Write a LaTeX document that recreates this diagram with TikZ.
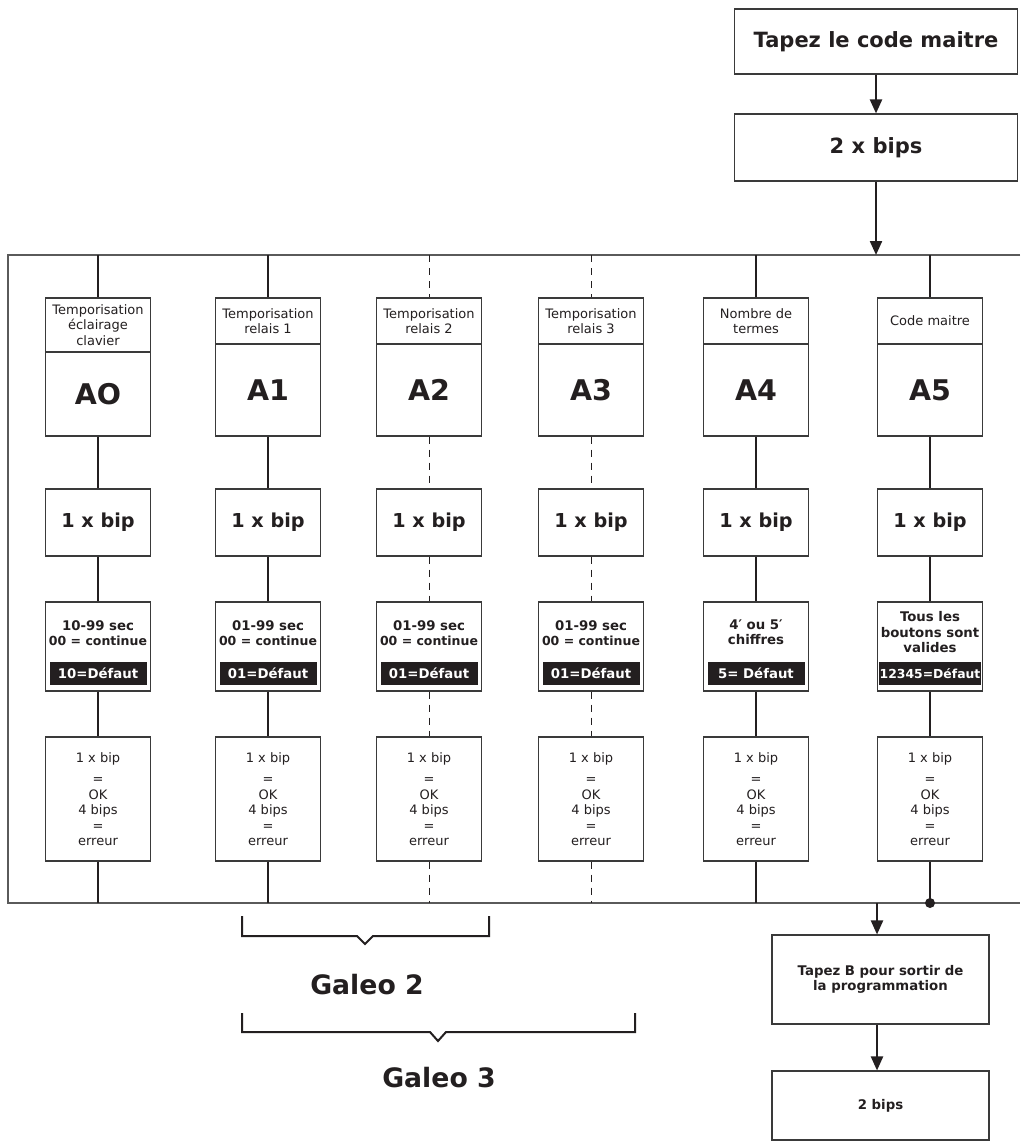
\documentclass[tikz,border=0pt]{standalone}
\usepackage{fontspec}
\setmainfont{DejaVu Sans}
\usetikzlibrary{arrows.meta}
\definecolor{ink}{HTML}{231F20}
\definecolor{edgec}{HTML}{3A3A3A}
\definecolor{framec}{HTML}{5A5A5A}
\newcommand\fHd{\fontsize{13}{15.5}\selectfont}
\newcommand\fBig{\fontsize{28.5}{30}\selectfont\bfseries}
\newcommand\fBip{\fontsize{19.2}{21}\selectfont\bfseries}
\newcommand\fVal{\fontsize{13.3}{15.5}\selectfont\bfseries}
\newcommand\fValS{\fontsize{12.5}{15.5}\selectfont\bfseries}
\newcommand\fRes{\fontsize{13}{15.5}\selectfont}
\newcommand\fTop{\fontsize{21}{23}\selectfont\bfseries}
\newcommand\fGal{\fontsize{26.7}{28}\selectfont\bfseries}
\tikzset{
 box/.style={draw=edgec, line width=1.1pt, fill=white, minimum width=105pt, inner sep=0pt, align=center, text=ink},
 stem/.style={line width=1.9pt, draw=ink},
 dstem/.style={line width=1pt, draw=ink, dash pattern=on 7pt off 6pt},
 flow/.style={line width=2.2pt, draw=ink, -{Triangle[width=12pt,length=14pt]}},
 frameline/.style={line width=1.4pt, draw=framec},
 bracket/.style={line width=2pt, draw=ink},
 band/.style={fill=ink, text=white, minimum width=97pt, minimum height=23pt, inner sep=0pt, font=\fVal},
 valtext/.style={font=\fVal, align=center, text=ink, inner sep=0pt},
}
\newcommand\gcol[6]{%
 \pgfmathsetmacro\hc{(298+#3)/2}%
 \pgfmathsetmacro\hh{#3-298}%
 \pgfmathsetmacro\ac{(436+#3)/2}%
 \pgfmathsetmacro\ah{436-#3}%
 \coordinate (t#1) at (#2,255);
 \coordinate (u#1) at (#2,903);
 \node[box, minimum height=\hh pt, font=\fHd] (h#1) at (#2,\hc) {#4};
 \node[box, minimum height=\ah pt, font=\fBig] (a#1) at (#2,\ac) {#5};
 \node[box, minimum height=67pt, font=\fBip] (b#1) at (#2,522.5) {1 x bip};
 \node[box, minimum height=89pt] (v#1) at (#2,646.5) {};
 \node[box, minimum height=124pt, font=\fRes] (r#1) at (#2,799) {1 x bip\\[6pt]=\\OK\\4 bips\\=\\erreur};
 \draw[#6] (t#1) -- (h#1.north);
 \draw[#6] (a#1.south) -- (b#1.north);
 \draw[#6] (b#1.south) -- (v#1.north);
 \draw[#6] (v#1.south) -- (r#1.north);
 \draw[#6] (r#1.south) -- (u#1);
}
\begin{document}
\begin{tikzpicture}[x=1pt,y=-1pt]
\useasboundingbox (0,0) rectangle (1020,1142);
% frame
\draw[frameline] (1020,255) -- (8,255) -- (8,903) -- (1020,903);
% top flow
\node[box, minimum width=283pt, minimum height=65pt, font=\fTop] (m1) at (876,41.5) {Tapez le code maitre};
\node[box, minimum width=283pt, minimum height=67pt, font=\fTop] (m2) at (876,147.5) {2 x bips};
\coordinate (ftop) at (876,255);
\draw[flow] (m1.south) -- (m2.north);
\draw[flow] (m2.south) -- (ftop);
% columns
\gcol{0}{98}{352}{Temporisation\\éclairage\\clavier}{AO}{stem}
\gcol{1}{268}{344}{Temporisation\\relais 1}{A1}{stem}
\gcol{2}{429}{344}{Temporisation\\relais 2}{A2}{dstem}
\gcol{3}{591}{344}{Temporisation\\relais 3}{A3}{dstem}
\gcol{4}{756}{344}{Nombre de\\termes}{A4}{stem}
\gcol{5}{930}{344}{Code maitre}{A5}{stem}
% value texts
\node[valtext] (vt0) at (98,633) {10-99 sec\\{\fValS 00 = continue}};
\node[band] (vd0) at (98,673.5) {10=Défaut};
\node[valtext] (vt1) at (268,633) {01-99 sec\\{\fValS 00 = continue}};
\node[band] (vd1) at (268,673.5) {01=Défaut};
\node[valtext] (vt2) at (429,633) {01-99 sec\\{\fValS 00 = continue}};
\node[band] (vd2) at (429,673.5) {01=Défaut};
\node[valtext] (vt3) at (591,633) {01-99 sec\\{\fValS 00 = continue}};
\node[band] (vd3) at (591,673.5) {01=Défaut};
\node[valtext] (vt4) at (756,632) {4′ ou 5′\\chiffres};
\node[band] (vd4) at (756,673.5) {5= Défaut};
\node[valtext] (vt5) at (930,632.5) {Tous les\\boutons sont\\valides};
\node[band, minimum width=102pt, font=\fontsize{12.4}{14}\selectfont\bfseries] (vd5) at (930,673.5) {12345=Défaut};
% bottom exit
\node[circle, fill=ink, inner sep=0pt, minimum size=10pt] (dot) at (930,903) {};
\node[box, minimum width=217pt, minimum height=89pt, font=\fVal] (tb) at (880.5,979.5) {Tapez B pour sortir de\\la programmation};
\node[box, minimum width=217pt, minimum height=69pt, font=\fVal] (tb2) at (880.5,1105.5) {2 bips};
\coordinate (fb) at (877,903);
\draw[flow] (fb) -- (fb |- tb.north);
\draw[flow] (fb |- tb.south) -- (fb |- tb2.north);
% brackets
\draw[bracket] (242,916) -- (242,936) -- (357,936) -- (365,944) -- (373,936) -- (489,936) -- (489,916);
\node[font=\fGal, text=ink] (g2) at (367,985) {Galeo 2};
\draw[bracket] (242,1013) -- (242,1032) -- (430,1032) -- (438,1041) -- (446,1032) -- (635,1032) -- (635,1013);
\node[font=\fGal, text=ink] (g3) at (439,1078) {Galeo 3};
\end{tikzpicture}
\end{document}
